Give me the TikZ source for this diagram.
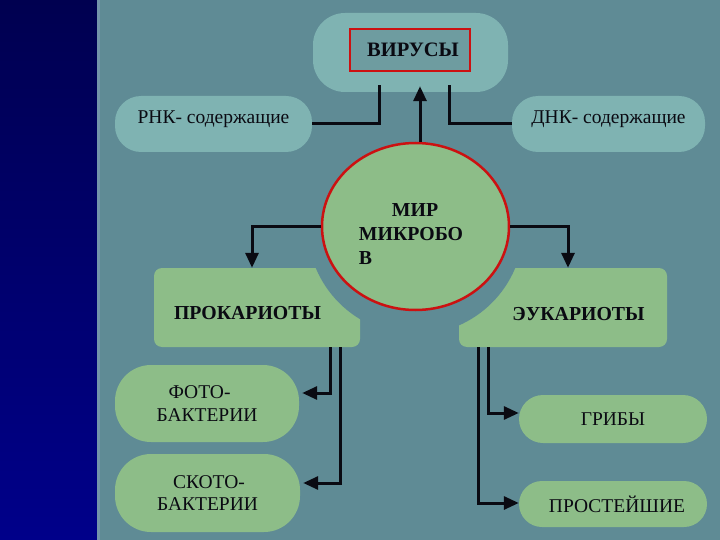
\documentclass[tikz,border=0pt]{standalone}
\usepackage{fontspec}
\setmainfont{Liberation Serif}
\usetikzlibrary{arrows.meta,shapes.geometric}
\definecolor{bgteal}{HTML}{5F8B95}
\definecolor{boxteal}{HTML}{7FB3B2}
\definecolor{boxgreen}{HTML}{8DBD88}
\definecolor{redline}{HTML}{CC1111}
\definecolor{virfill}{HTML}{6E9CA0}
\definecolor{navytop}{HTML}{000050}
\definecolor{navybot}{HTML}{00008A}
\definecolor{stripe}{HTML}{7393AA}
\definecolor{ink}{HTML}{0A0A12}
\begin{document}
\begin{tikzpicture}[x=1pt,y=-1pt,
  tealbox/.style={fill=boxteal, draw=none, rounded corners=#1, inner sep=0pt, text=ink, font=\fontsize{19.5}{23}\selectfont},
  greenbox/.style={fill=boxgreen, draw=none, rounded corners=#1, inner sep=0pt, text=ink, font=\fontsize{19.5}{22.5}\selectfont},
  btxt/.style={text=ink, inner sep=0pt, font=\bfseries\fontsize{19.8}{24}\selectfont},
  conn/.style={draw=ink, line width=3pt},
  arr/.style={conn, -{Triangle[length=15pt,width=13pt]}}]
\useasboundingbox (0,0) rectangle (720,540);
\fill[bgteal] (0,0) rectangle (720,540);
\shade[top color=navytop, bottom color=navybot] (0,0) rectangle (97,540);
\fill[stripe] (97,0) rectangle (100,540);

% top boxes
\node[tealbox=32, minimum width=195pt, minimum height=79pt] (vbox) at (410.5,52.5) {};
\node[draw=redline, line width=2pt, fill=virfill, minimum width=120pt, minimum height=42pt,
      inner sep=0pt, text=ink, font=\bfseries\fontsize{20.5}{24}\selectfont] (vir) at (410,50) {\hspace*{6pt}ВИРУСЫ};
\node[tealbox=26, minimum width=197pt, minimum height=56pt, text height=13pt, text depth=14pt] (rnk) at (213.5,124) {РНК- содержащие};
\node[tealbox=26, minimum width=193pt, minimum height=56pt, text height=13pt, text depth=14pt] (dnk) at (608.5,124) {ДНК- содержащие};

% green boxes
\node[greenbox=8, minimum width=206pt, minimum height=79pt] (prok) at (257,307.5) {};
\node[greenbox=8, minimum width=208pt, minimum height=79pt] (euk) at (563,307.5) {};
\node[greenbox=36, minimum width=184pt, minimum height=77pt, align=left] (foto) at (207,403.5) {\hspace*{12pt}ФОТО-\\БАКТЕРИИ};
\node[greenbox=36, minimum width=185pt, minimum height=78pt, align=left] (skoto) at (207.5,493) {\hspace*{16pt}СКОТО-\\БАКТЕРИИ};
\node[greenbox=24, minimum width=188pt, minimum height=48pt] (grib) at (613,419) {ГРИБЫ};
\node[greenbox=23, minimum width=188pt, minimum height=46pt] (prost) at (613,504) {\hspace*{8pt}ПРОСТЕЙШИЕ};

% cut-out around the central circle
\fill[bgteal] (415.5,226.5) circle[radius=108];

% central circle
\node[ellipse, draw=redline, line width=2.5pt, fill=boxgreen, minimum width=187pt, minimum height=167pt, inner sep=0pt] (mir) at (415.5,226.5) {};
\node[btxt, align=left] (mirt) at (411,234.5) {\hspace*{33pt}МИР\\МИКРОБО\\В};

\node[btxt] (prokt) at (247.5,313) {ПРОКАРИОТЫ};
\node[btxt] (eukt) at (578.5,314) {ЭУКАРИОТЫ};

% connectors
\draw[arr] ([xshift=4.5pt]mir.north) -- ([xshift=9.5pt,yshift=6pt]vbox.south);
\draw[conn] ([xshift=-31.5pt,yshift=7pt]vbox.south) |- (rnk.east);
\draw[conn] ([xshift=38.5pt,yshift=7pt]vbox.south) |- (dnk.west);
\draw[arr] (mir.west) -| ([xshift=-5pt]prok.north);
\draw[arr] (mir.east) -| ([xshift=5pt]euk.north);
\draw[arr, shorten >=3pt] ([xshift=73pt]prok.south) |- ([yshift=10.5pt]foto.east);
\draw[arr, shorten >=3pt] ([xshift=83pt]prok.south) |- ([yshift=10pt]skoto.east);
\draw[arr] ([xshift=-75pt]euk.south) |- ([yshift=6pt]grib.west);
\draw[arr] ([xshift=-85pt]euk.south) |- ([yshift=1pt]prost.west);
\end{tikzpicture}
\end{document}
